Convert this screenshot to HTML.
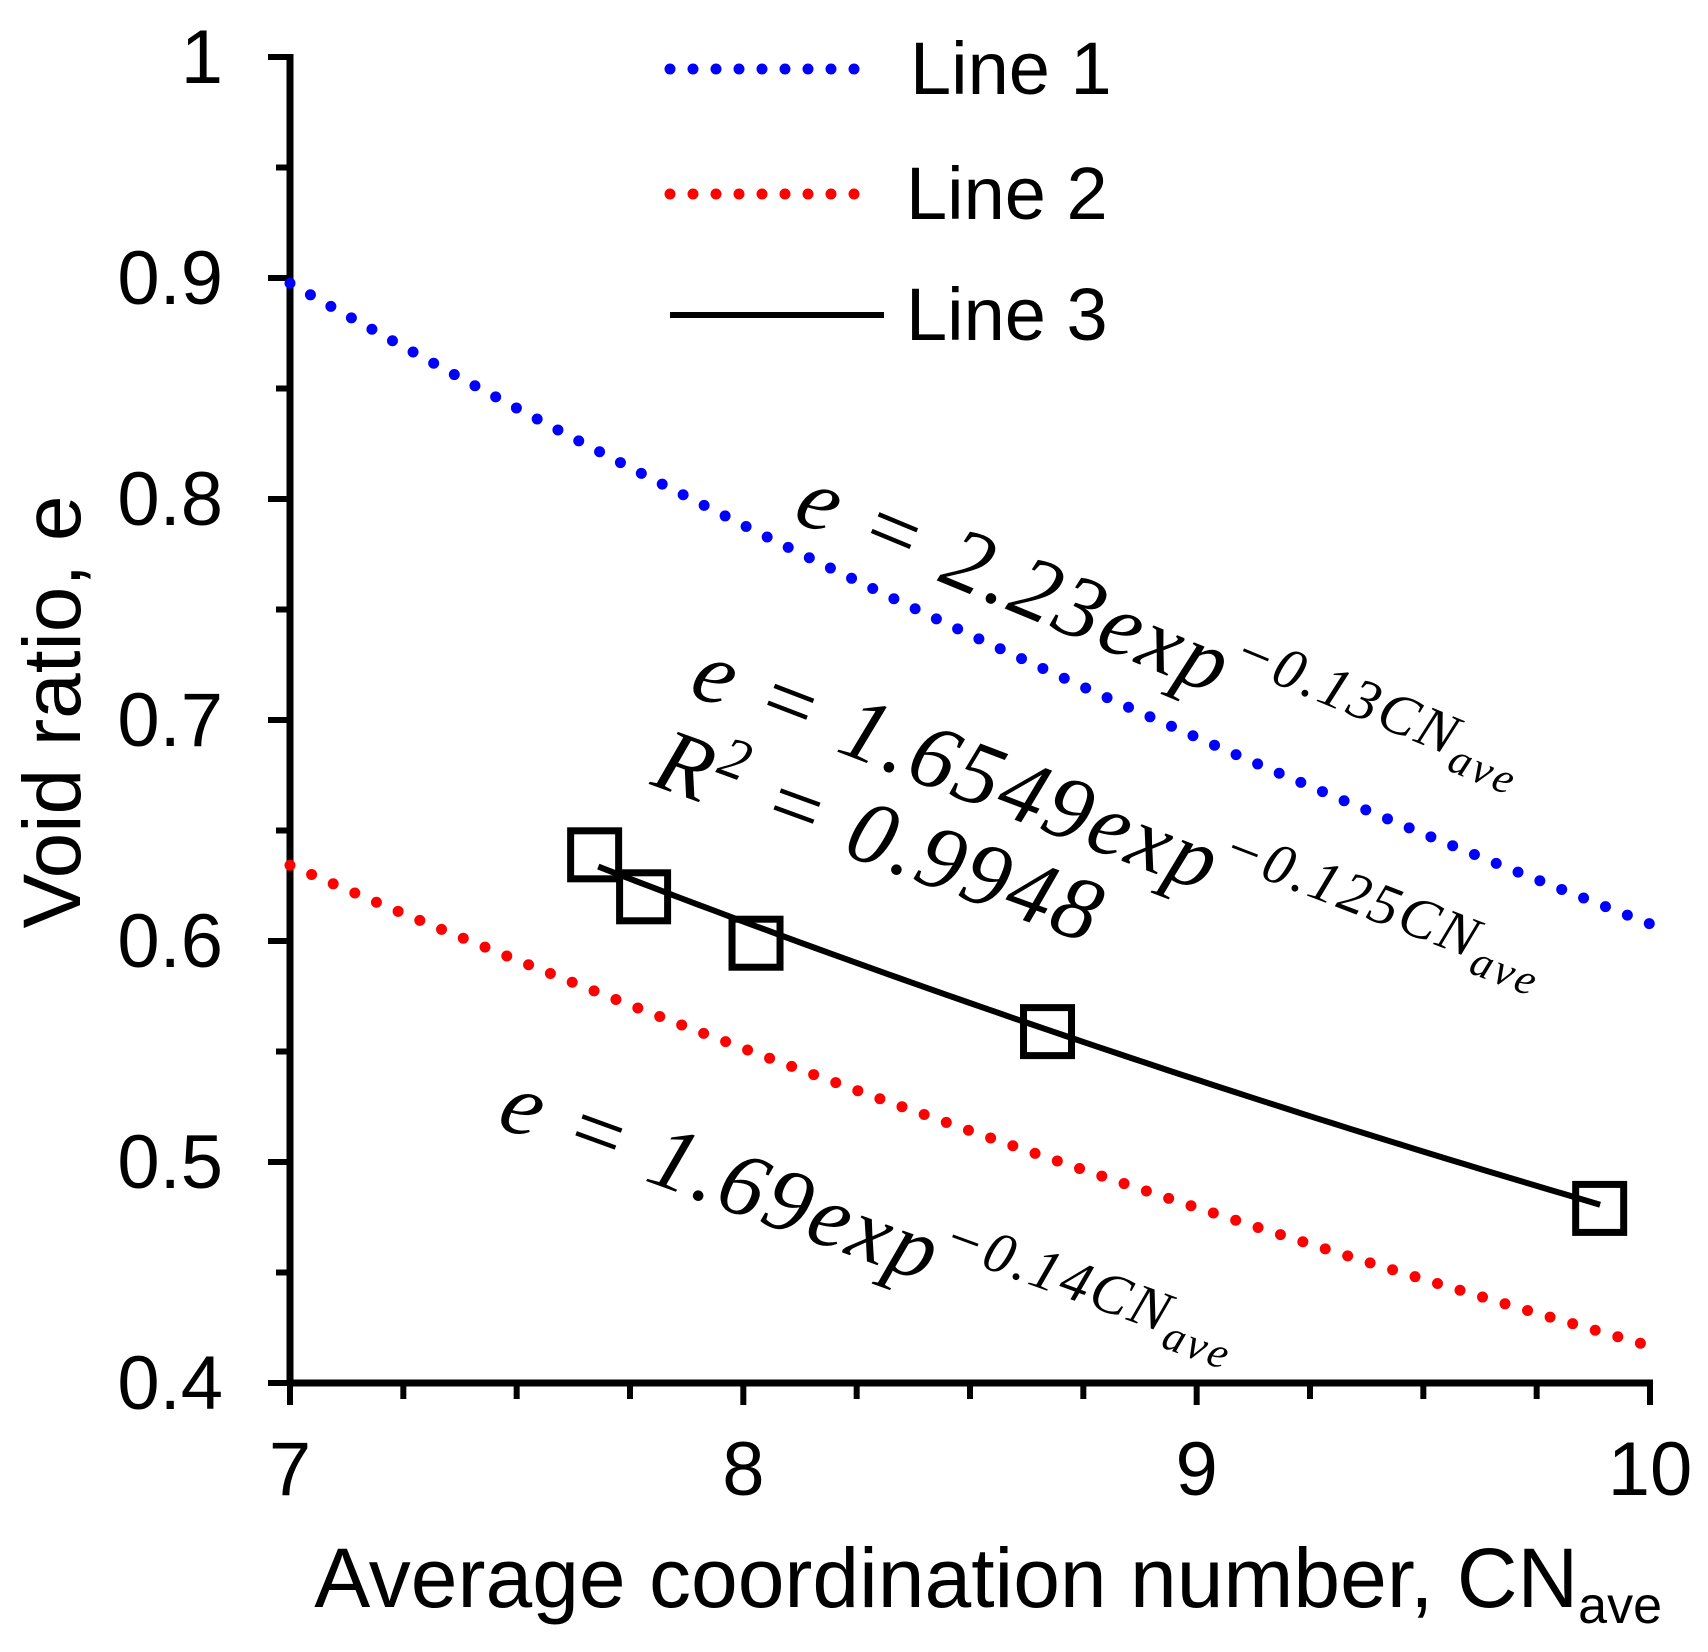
<!DOCTYPE html>
<html><head><meta charset="utf-8"><style>
html,body{margin:0;padding:0;background:#fff;}
svg{display:block;font-family:"Liberation Sans",sans-serif;}
.eq{font-family:"Liberation Serif",serif;font-style:italic;}
</style></head><body>
<svg id="chart" width="1708" height="1652" viewBox="0 0 1708 1652" xmlns="http://www.w3.org/2000/svg">
<g id="axes"></g>
<g id="series"></g>
<g id="legend">
  <line x1="670" y1="69" x2="876" y2="69" stroke="#0000ff" stroke-width="11" stroke-linecap="round" stroke-dasharray="0 23"/>
  <text x="910" y="94" font-size="74">Line 1</text>
  <line x1="670" y1="194" x2="876" y2="194" stroke="#ff0000" stroke-width="11" stroke-linecap="round" stroke-dasharray="0 23"/>
  <text x="906" y="219" font-size="74">Line 2</text>
  <line x1="670" y1="315" x2="884" y2="315" stroke="#000" stroke-width="6"/>
  <text x="906" y="340" font-size="74">Line 3</text>
</g>
<g class="eq" font-size="90" letter-spacing="3">
  <text x="791" y="520" transform="rotate(22.5 791 520)">e = 2.23exp<tspan font-size="58" dy="-34">−0.13CN</tspan><tspan font-size="44" dy="14">ave</tspan></text>
  <text x="687" y="694" transform="rotate(21 687 694)">e = 1.6549exp<tspan font-size="58" dy="-34">−0.125CN</tspan><tspan font-size="44" dy="14">ave</tspan></text>
  <text x="649" y="784" transform="rotate(20 649 784)">R<tspan font-size="58" dy="-34">2</tspan><tspan dy="34"> = 0.9948</tspan></text>
  <text x="495" y="1126" transform="rotate(20 495 1126)">e = 1.69exp<tspan font-size="58" dy="-34">−0.14CN</tspan><tspan font-size="44" dy="14">ave</tspan></text>
</g>
<text x="1662" y="1607" font-size="84" text-anchor="end">Average coordination number, CN<tspan font-size="52" dy="16">ave</tspan></text>
<text x="0" y="0" font-size="82" text-anchor="middle" transform="translate(80 712) rotate(-90)">Void ratio, e</text>
</svg>
<script>
const xTicks = [7, 8, 9, 10];
const yTicks = [0.4, 0.5, 0.6, 0.7, 0.8, 0.9, 1];
const yTickLabels = ["0.4", "0.5", "0.6", "0.7", "0.8", "0.9", "1"];
const line1Coef = [2.23, -0.13];
const line2Coef = [1.69, -0.14];
const line3Coef = [1.6549, -0.125];
const line1Range = [7, 10];
const line2Range = [7, 10];
const line3Range = [7.68, 9.89];
const pointsCN = [7.672, 7.78, 8.028, 8.671, 9.889];
const pointsE = [0.639, 0.620, 0.599, 0.559, 0.479];

const NS = "http://www.w3.org/2000/svg";
const X0 = 290, X1 = 1650, Y0 = 1383, Y1 = 57;
function xs(v){ return X0 + (v - 7) / 3 * (X1 - X0); }
function ys(v){ return Y0 - (v - 0.4) / 0.6 * (Y0 - Y1); }
function mk(tag, attrs, parent){
  const el = document.createElementNS(NS, tag);
  for (const k in attrs) el.setAttribute(k, attrs[k]);
  parent.appendChild(el);
  return el;
}
const axes = document.getElementById('axes');
const series = document.getElementById('series');

let a = mk('line', {x1: X0, y1: Y1 - 3, x2: X0, y2: Y0 + 3, stroke: '#000', 'stroke-width': 7}, axes);


a = mk('line', {x1: X0 - 3, y1: Y0, x2: X1 + 3, y2: Y0, stroke: '#000', 'stroke-width': 7}, axes);



for (let i = 0; i <= 12; i++) {
  const v = 0.4 + i * 0.05;
  const major = i % 2 === 0;
  const t = mk('line', {x1: X0 - (major ? 22 : 14), y1: ys(v), x2: X0, y2: ys(v), stroke: '#000', 'stroke-width': 6}, axes);
  
  
}
yTicks.forEach((v, i) => {
  const t = mk('text', {x: 223, y: ys(v) + 26, 'font-size': 76, 'text-anchor': 'end'}, axes);
  t.textContent = yTickLabels[i];
  
  
});
for (let i = 0; i <= 12; i++) {
  const v = 7 + i * 0.25;
  const major = i % 4 === 0;
  const t = mk('line', {x1: xs(v), y1: Y0, x2: xs(v), y2: Y0 + (major ? 22 : 16), stroke: '#000', 'stroke-width': 6}, axes);
  
  
}
xTicks.forEach(v => {
  const t = mk('text', {x: xs(v), y: 1495, 'font-size': 76, 'text-anchor': 'middle'}, axes);
  t.textContent = String(v);
  
  
});

function curve(coef, range){
  let d = '';
  const n = 60;
  for (let i = 0; i <= n; i++) {
    const x = range[0] + (range[1] - range[0]) * i / n;
    const y = coef[0] * Math.exp(coef[1] * x);
    d += (i ? 'L' : 'M') + xs(x).toFixed(1) + ' ' + ys(y).toFixed(1);
  }
  return d;
}
let p = mk('path', {d: curve(line1Coef, line1Range), fill: 'none', stroke: '#0000ff', 'stroke-width': 11, 'stroke-linecap': 'round', 'stroke-dasharray': '0 23.5'}, series);


p = mk('path', {d: curve(line2Coef, line2Range), fill: 'none', stroke: '#ff0000', 'stroke-width': 11, 'stroke-linecap': 'round', 'stroke-dasharray': '0 23.5'}, series);


p = mk('path', {d: curve(line3Coef, line3Range), fill: 'none', stroke: '#000', 'stroke-width': 6}, series);



pointsCN.forEach((cn, i) => {
  const s = 48;
  const r = mk('rect', {x: xs(cn) - s / 2, y: ys(pointsE[i]) - s / 2, width: s, height: s, fill: 'none', stroke: '#000', 'stroke-width': 7}, series);
  
  
});
</script>
</body></html>
